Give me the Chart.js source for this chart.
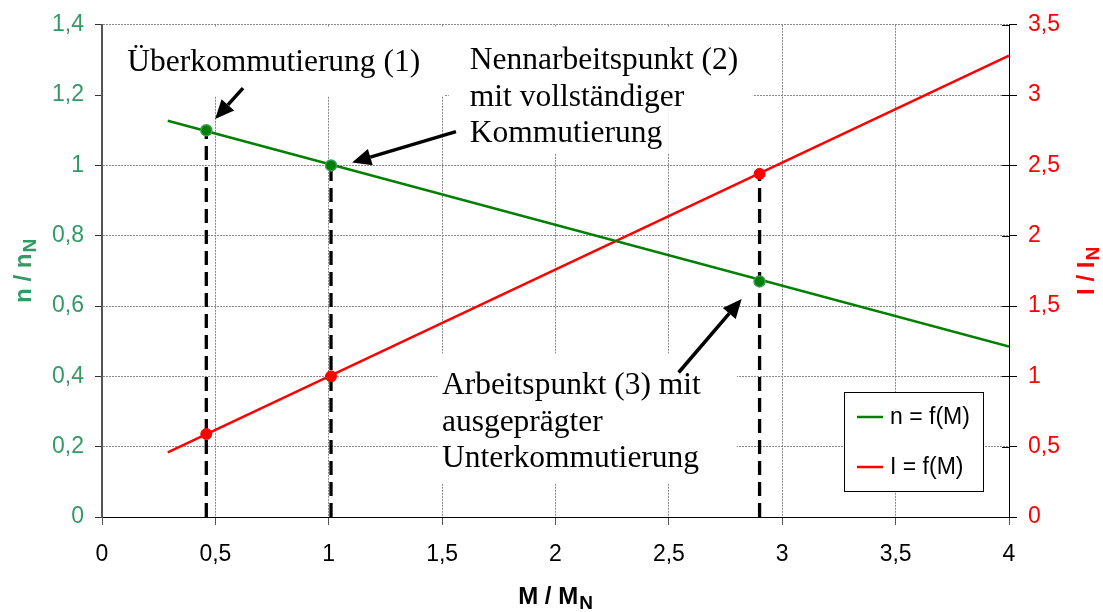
<!DOCTYPE html>
<html>
<head>
<meta charset="utf-8">
<script src="https://cdn.jsdelivr.net/npm/chart.js@4.4.1/dist/chart.umd.min.js"></script>
<style>
  html, body { margin: 0; padding: 0; background: #ffffff; overflow: hidden; }
  #c { display: block; }
</style>
</head>
<body>
<canvas id="c" width="1103" height="612"></canvas>
<script>
// Torque range covered by the two characteristic lines (M / M_N)
const lineTorque = [0.29, 4.0];
// Speed characteristic n / n_N at the two ends of that range
const lineSpeed = [1.127, 0.485];
// Current characteristic I / I_N at the two ends of that range
const lineCurrent = [0.46, 3.28];

// Operating points (1), (2), (3)
const opTorque = [0.46, 1.01, 2.9];
const opSpeed = [1.10, 1.00, 0.67];
const opCurrent = [0.59, 1.00, 2.44];
// Which axis each dashed drop line rises to
const dropAxis = ['y', 'y', 'y2'];

// Tick values
const xTicks = [0, 0.5, 1, 1.5, 2, 2.5, 3, 3.5, 4];
const speedTicks = [0, 0.2, 0.4, 0.6, 0.8, 1, 1.2, 1.4];
const currentTicks = [0, 0.5, 1, 1.5, 2, 2.5, 3, 3.5];

// Annotation texts
const noteTexts = [
  ['Überkommutierung (1)'],
  ['Nennarbeitspunkt (2)', 'mit vollständiger', 'Kommutierung'],
  ['Arbeitspunkt (3) mit', 'ausgeprägter', 'Unterkommutierung']
];

const GREEN = '#008000';
const GREEN_TEXT = '#339966';
const RED = '#ff0000';
const SANS = '"Liberation Sans", Arial, sans-serif';
const SERIF = '"Liberation Serif", "Times New Roman", serif';

const fmt = v => String(Math.round(v * 10) / 10).replace('.', ',');

// Text placement (data units of x / left y axis): left edge, first baseline
const notePlace = [
  { x: 0.111, y: 1.270 },
  { x: 1.622, y: 1.273 },
  { x: 1.499, y: 0.349 }
];
// White panels behind the texts (data units: x0, x1, yTop, yBottom)
const notePanels = [
  [0.005, 1.51, 1.395, 1.197],
  [1.53, 2.87, 1.395, 1.197],
  [1.53, 2.50, 1.2, 1.035],
  [1.48, 2.80, 0.465, 0.095]
];
// Arrows: tail -> tip (data units of x / left y axis)
const arrows = [
  [0.622, 1.220, 0.499, 1.132],
  [1.561, 1.096, 1.103, 1.008],
  [2.543, 0.411, 2.821, 0.620]
];

const datasets = [
  {
    label: 'n = f(M)', type: 'line', yAxisID: 'y', order: 2,
    data: lineTorque.map((x, i) => ({ x, y: lineSpeed[i] })),
    borderColor: GREEN, borderWidth: 2.5, pointRadius: 0, fill: false, tension: 0
  },
  {
    label: 'I = f(M)', type: 'line', yAxisID: 'y2', order: 2,
    data: lineTorque.map((x, i) => ({ x, y: lineCurrent[i] })),
    borderColor: RED, borderWidth: 2.5, pointRadius: 0, fill: false, tension: 0
  },
  {
    label: 'nPoints', type: 'scatter', yAxisID: 'y', order: 0,
    data: opTorque.map((x, i) => ({ x, y: opSpeed[i] })),
    backgroundColor: GREEN, borderColor: '#3a9a5a', borderWidth: 1.5, pointRadius: 5.5, pointHoverRadius: 5.5
  },
  {
    label: 'iPoints', type: 'scatter', yAxisID: 'y2', order: 0,
    data: opTorque.map((x, i) => ({ x, y: opCurrent[i] })),
    backgroundColor: RED, borderColor: RED, borderWidth: 1, pointRadius: 5.5, pointHoverRadius: 5.5
  }
];
// Dashed drop lines from each operating point down to the torque axis
opTorque.forEach((x, i) => {
  const top = dropAxis[i] === 'y' ? opSpeed[i] : opCurrent[i];
  datasets.push({
    label: 'drop' + i, type: 'line', yAxisID: dropAxis[i], order: 3,
    data: [{ x, y: 0 }, { x, y: top }],
    borderColor: '#000000', borderWidth: 3.3, borderDash: [14, 7], pointRadius: 0, fill: false
  });
});

function drawSubTitle(ctx, main, sub, color, size, subSize, drop) {
  ctx.font = 'bold ' + size + 'px ' + SANS;
  const w1 = ctx.measureText(main).width;
  ctx.font = 'bold ' + subSize + 'px ' + SANS;
  const w2 = ctx.measureText(sub).width;
  const total = w1 + w2 + 1;
  ctx.fillStyle = color;
  ctx.textBaseline = 'alphabetic';
  ctx.textAlign = 'left';
  ctx.font = 'bold ' + size + 'px ' + SANS;
  ctx.fillText(main, -total / 2, 0);
  ctx.font = 'bold ' + subSize + 'px ' + SANS;
  ctx.fillText(sub, -total / 2 + w1 + 1, drop);
}

const decorations = {
  id: 'decorations',
  beforeDatasetsDraw(chart) {
    const { ctx, scales } = chart;
    const sx = scales.x, sy = scales.y;
    ctx.save();
    ctx.fillStyle = '#ffffff';
    notePanels.forEach(p => {
      const x0 = sx.getPixelForValue(p[0]), x1 = sx.getPixelForValue(p[1]);
      const y0 = sy.getPixelForValue(p[2]), y1 = sy.getPixelForValue(p[3]);
      ctx.fillRect(x0, y0, x1 - x0, y1 - y0);
    });
    ctx.restore();
  },
  afterDatasetsDraw(chart) {
    const { ctx, scales } = chart;
    const sx = scales.x, sy = scales.y, sy2 = scales.y2;
    ctx.save();
    // right axis ticks reach slightly into the plot as well
    ctx.strokeStyle = '#000000';
    ctx.lineWidth = 1;
    currentTicks.forEach(v => {
      const py = Math.round(sy2.getPixelForValue(v)) + 0.5;
      ctx.beginPath();
      ctx.moveTo(sx.getPixelForValue(4) - 7, py);
      ctx.lineTo(sx.getPixelForValue(4), py);
      ctx.stroke();
    });
    // annotation texts
    ctx.fillStyle = '#000000';
    ctx.font = '31.5px ' + SERIF;
    ctx.textAlign = 'left';
    ctx.textBaseline = 'alphabetic';
    noteTexts.forEach((lines, i) => {
      const x = sx.getPixelForValue(notePlace[i].x);
      const y = sy.getPixelForValue(notePlace[i].y);
      lines.forEach((t, k) => ctx.fillText(t, x, y + k * 36.5));
    });
    // arrows
    arrows.forEach(a => {
      const x0 = sx.getPixelForValue(a[0]), y0 = sy.getPixelForValue(a[1]);
      const x1 = sx.getPixelForValue(a[2]), y1 = sy.getPixelForValue(a[3]);
      const ang = Math.atan2(y1 - y0, x1 - x0);
      const head = 19, half = 8.5;
      const bx = x1 - head * Math.cos(ang), by = y1 - head * Math.sin(ang);
      ctx.strokeStyle = '#000000';
      ctx.lineWidth = 3.5;
      ctx.beginPath();
      ctx.moveTo(x0, y0);
      ctx.lineTo(bx, by);
      ctx.stroke();
      ctx.fillStyle = '#000000';
      ctx.beginPath();
      ctx.moveTo(x1, y1);
      ctx.lineTo(bx + half * Math.sin(ang), by - half * Math.cos(ang));
      ctx.lineTo(bx - half * Math.sin(ang), by + half * Math.cos(ang));
      ctx.closePath();
      ctx.fill();
    });
    // legend box
    const lx = 844, ly = 392, lw = 139, lh = 99;
    ctx.fillStyle = '#ffffff';
    ctx.fillRect(lx, ly, lw, lh);
    ctx.strokeStyle = '#000000';
    ctx.lineWidth = 1;
    ctx.strokeRect(lx + 0.5, ly + 0.5, lw, lh);
    [0, 1].forEach(i => {
      const ds = chart.data.datasets[i];
      const yy = ly + 25 + i * 50;
      ctx.strokeStyle = ds.borderColor;
      ctx.lineWidth = 2.5;
      ctx.beginPath();
      ctx.moveTo(lx + 13, yy);
      ctx.lineTo(lx + 39, yy);
      ctx.stroke();
      ctx.fillStyle = '#000000';
      ctx.font = '23px ' + SANS;
      ctx.textBaseline = 'middle';
      ctx.fillText(ds.label, lx + 46, yy + 1);
    });
    ctx.restore();
  },
  afterDraw(chart) {
    const { ctx, chartArea } = chart;
    const cy = (chartArea.top + chartArea.bottom) / 2;
    const cx = (chartArea.left + chartArea.right) / 2;
    ctx.save();
    ctx.translate(31, cy);
    ctx.rotate(-Math.PI / 2);
    drawSubTitle(ctx, 'n / n', 'N', GREEN_TEXT, 24, 19, 5);
    ctx.restore();
    ctx.save();
    ctx.translate(1094, cy);
    ctx.rotate(-Math.PI / 2);
    drawSubTitle(ctx, 'I / I', 'N', RED, 24, 19, 5);
    ctx.restore();
    ctx.save();
    ctx.translate(cx, 604);
    drawSubTitle(ctx, 'M / M', 'N', '#000000', 24, 19, 5);
    ctx.restore();
  }
};

new Chart(document.getElementById('c'), {
  data: { datasets },
  options: {
    responsive: false,
    devicePixelRatio: 1,
    animation: false,
    layout: { padding: { top: 20, left: 0, right: 0, bottom: 0 } },
    plugins: { legend: { display: false }, tooltip: { enabled: false } },
    scales: {
      x: {
        type: 'linear', position: 'bottom', min: 0, max: 4,
        afterBuildTicks: s => { s.ticks = xTicks.map(v => ({ value: v })); },
        afterFit: s => { s.height = 95; },
        ticks: { color: '#000000', font: { family: SANS, size: 23 }, padding: 16, callback: fmt, maxRotation: 0 },
        grid: { color: '#8a8a8a', lineWidth: 1, tickLength: 8, tickColor: '#555555', drawOnChartArea: true },
        border: { color: '#000000', width: 1, dash: [2, 1] }
      },
      y: {
        type: 'linear', position: 'left', min: 0, max: 1.4,
        afterBuildTicks: s => { s.ticks = speedTicks.map(v => ({ value: v })); },
        afterFit: s => { s.width = 102; },
        ticks: { color: GREEN_TEXT, font: { family: SANS, size: 23 }, padding: 11, callback: fmt },
        grid: { color: '#8a8a8a', lineWidth: 1, tickLength: 7, tickColor: '#333333' },
        border: { color: '#555555', width: 2, dash: [2, 1] }
      },
      y2: {
        type: 'linear', position: 'right', min: 0, max: 3.5,
        afterBuildTicks: s => { s.ticks = currentTicks.map(v => ({ value: v })); },
        afterFit: s => { s.width = 94; },
        ticks: { color: RED, font: { family: SANS, size: 23 }, padding: 11, callback: fmt },
        grid: { drawOnChartArea: false, tickLength: 8, tickColor: '#000000' },
        border: { color: '#000000', width: 1 }
      }
    }
  },
  plugins: [decorations]
});
</script>
</body>
</html>
